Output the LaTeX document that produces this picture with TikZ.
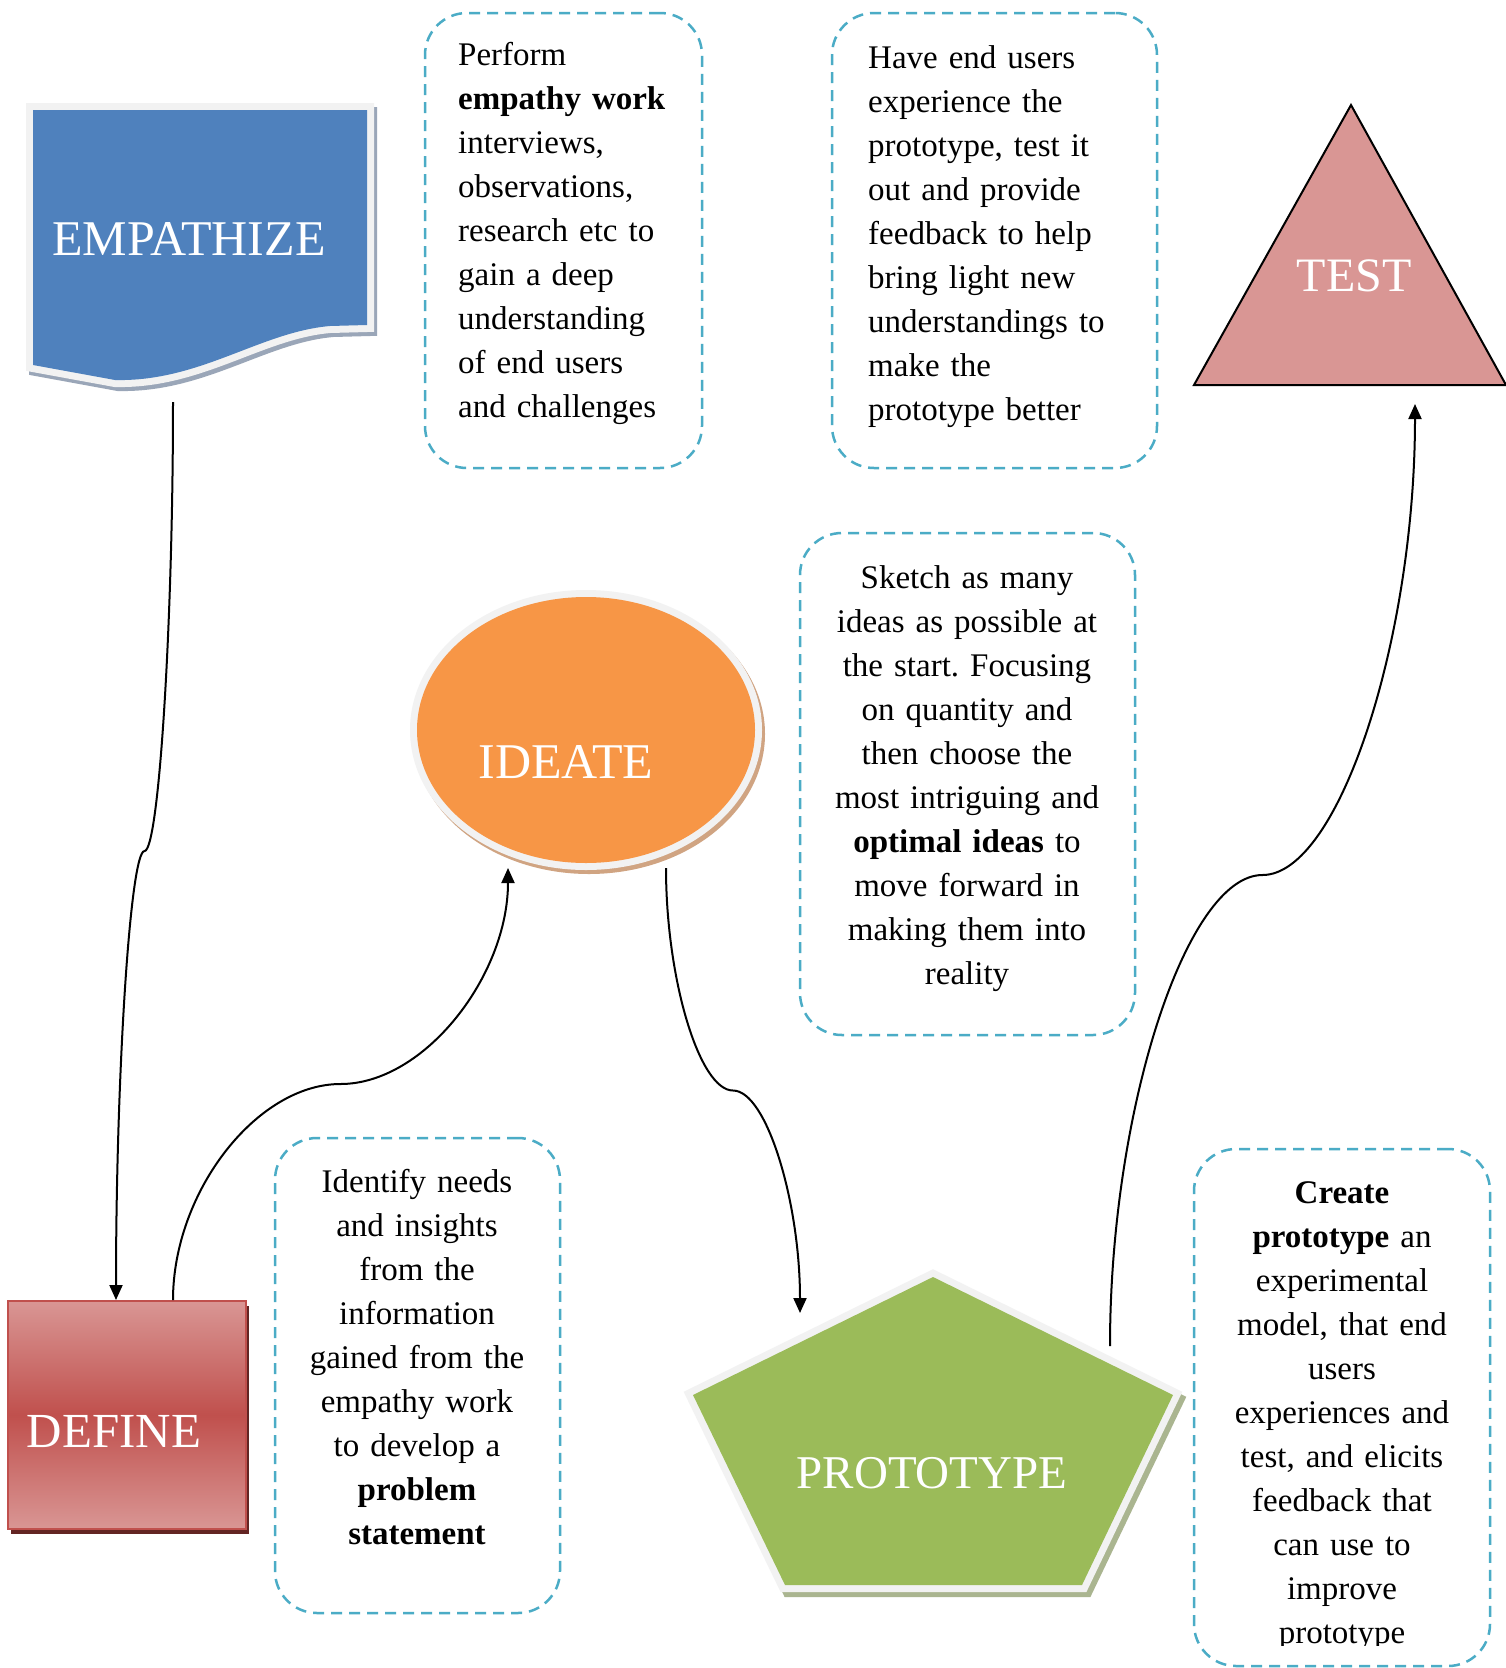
\documentclass[tikz,border=0pt]{standalone}
\usepackage{fontspec}
\setmainfont{Liberation Serif}
\usetikzlibrary{arrows.meta,calc,shapes.geometric}
\definecolor{empblue}{HTML}{4F81BD}
\definecolor{empshadow}{HTML}{9AA6B8}
\definecolor{ideorange}{HTML}{F79646}
\definecolor{ideshadow}{HTML}{D0A482}
\definecolor{progreen}{HTML}{9BBB59}
\definecolor{proshadow}{HTML}{AAB590}
\definecolor{defred}{HTML}{C0504D}
\definecolor{defpink}{HTML}{D99694}
\definecolor{defshadow}{HTML}{632523}
\definecolor{framegray}{HTML}{F2F2F2}
\definecolor{dashblue}{HTML}{4BACC6}
\frenchspacing
\begin{document}
\begin{tikzpicture}[x=1pt,y=-1pt,
  dbox/.style={draw=dashblue, line width=2.5pt, dash pattern=on 11pt off 7pt, rounded corners=42pt, inner sep=0pt},
  bodytext/.style={inner sep=0pt, font={\fontsize{33}{44}\selectfont}},
  labeltext/.style={inner sep=0pt, text=white, anchor=base, font={\fontsize{49}{58}\selectfont}},
  wordcurve/.style={to path={let \p1=(\tikztostart), \p2=(\tikztotarget) in
     .. controls (\x1,{\y1+(\y2-\y1)/4}) and ({\x1+(\x2-\x1)/4},{(\y1+\y2)/2}) .. ({(\x1+\x2)/2},{(\y1+\y2)/2})
     .. controls ({\x1+3*(\x2-\x1)/4},{(\y1+\y2)/2}) and (\x2,{\y1+3*(\y2-\y1)/4}) .. (\x2,\y2)}},
  conn/.style={draw=black, line width=2pt, -{Triangle[length=15pt,width=13pt]}, wordcurve}
]
\useasboundingbox[fill=white] (0,0) rectangle (1505,1668);

% ---------- EMPATHIZE ----------
\filldraw[empshadow, line width=14pt, shift={(3,4)}] (33,110) -- (367,110) -- (367,325) -- (330,326) .. controls (260,332) and (200,382) .. (115,380) -- (33,365) -- cycle;
\draw[framegray, line width=14pt] (33,110) -- (367,110) -- (367,325) -- (330,326) .. controls (260,332) and (200,382) .. (115,380) -- (33,365) -- cycle;
\fill[empblue] (33,110) -- (367,110) -- (367,325) -- (330,326) .. controls (260,332) and (200,382) .. (115,380) -- (33,365) -- cycle;
\node[labeltext, font={\fontsize{50}{60}\selectfont}] (emp) at (189,255) {EMPATHIZE};

% ---------- DEFINE ----------
\fill[defshadow] (11,1306) rectangle (249,1534);
\draw[defred, line width=2pt, top color=defpink, bottom color=defpink, middle color=defred] (8,1301) rectangle (246,1529);
\node[labeltext] (def) at (114,1447) {DEFINE};

% ---------- IDEATE ----------
\filldraw[ideshadow, line width=14pt] (589,734) ellipse [x radius=169, y radius=133];
\draw[framegray, line width=14pt] (586,730) ellipse [x radius=169, y radius=133];
\fill[ideorange] (586,730) ellipse [x radius=169, y radius=133];
\node[labeltext, font={\fontsize{50}{60}\selectfont}] (ide) at (566,778) {IDEATE};

% ---------- PROTOTYPE ----------
\filldraw[proshadow, line width=14pt, line join=miter, shift={(4,5)}] (933,1277) -- (1173,1395) -- (1082,1585) -- (785,1585) -- (693,1395) -- cycle;
\draw[framegray, line width=14pt, line join=miter] (933,1277) -- (1173,1395) -- (1082,1585) -- (785,1585) -- (693,1395) -- cycle;
\fill[progreen] (933,1277) -- (1173,1395) -- (1082,1585) -- (785,1585) -- (693,1395) -- cycle;
\node[labeltext, font={\fontsize{47}{56}\selectfont}] (pro) at (932,1488) {PROTOTYPE};

% ---------- TEST ----------
\filldraw[fill=defpink, draw=black, line width=2pt] (1351,105) -- (1506,385) -- (1194,385) -- cycle;
\node[labeltext, font={\fontsize{48}{58}\selectfont}] (tes) at (1354,291) {TEST};

% ---------- dashed text boxes ----------
\node[dbox, minimum width=277pt, minimum height=455pt] (boxA) at (563.5,240.5) {};
\node[dbox, minimum width=325pt, minimum height=455pt] (boxB) at (994.5,240.5) {};
\node[dbox, minimum width=335pt, minimum height=502pt] (boxC) at (967.5,784) {};
\node[dbox, minimum width=285pt, minimum height=475pt] (boxD) at (417.5,1375.5) {};
\node[dbox, minimum width=296pt, minimum height=517pt] (boxE) at (1342,1407.5) {};

\node[bodytext, anchor=north west, align=left, text width=240pt] (txtA) at (458,34.2) {\strut Perform\\
\textbf{empathy work}\\ interviews,\\ observations,\\ research etc to\\ gain a deep\\ understanding\\ of end users\\ and challenges};

\node[bodytext, anchor=north west, align=left, text width=280pt] (txtB) at (868,37.2) {\strut Have end users\\
experience the\\ prototype, test it\\ out and provide\\ feedback to help\\ bring light new\\ understandings to\\ make the\\ prototype better};

\node[bodytext, anchor=north, align=center, text width=320pt] (txtC) at (967,557.2) {\strut Sketch as many\\
ideas as possible at\\ the start. Focusing\\ on quantity and\\ then choose the\\ most intriguing and\\ \textbf{optimal ideas} to\\ move forward in\\ making them into\\ reality};

\node[bodytext, anchor=north, align=center, text width=280pt] (txtD) at (417,1161.2) {\strut Identify needs\\
and insights\\ from the\\ information\\ gained from the\\ empathy work\\ to develop a\\ \textbf{problem}\\ \textbf{statement}};

\begin{scope}
\clip (1194,1148) rectangle (1490,1645);
\node[bodytext, anchor=north, align=center, text width=280pt] (txtE) at (1342,1172.2) {\strut \textbf{Create}\\
\textbf{prototype} an\\ experimental\\ model, that end\\ users\\ experiences and\\ test, and elicits\\ feedback that\\ can use to\\ improve\\ prototype};
\end{scope}

% ---------- connectors ----------
\coordinate (empOut) at (173,402);
\coordinate (defIn) at (116,1300);
\coordinate (defOut) at (173,1300);
\coordinate (ideIn) at (508,868);
\coordinate (ideOut) at (666,868);
\coordinate (proIn) at (800,1313);
\coordinate (proOut) at (1110,1346);
\coordinate (tesIn) at (1415,404);

\draw[conn] (empOut) to (defIn);
\draw[conn] (defOut) to (ideIn);
\draw[conn] (ideOut) to (proIn);
\draw[conn] (proOut) to (tesIn);
\end{tikzpicture}
\end{document}
